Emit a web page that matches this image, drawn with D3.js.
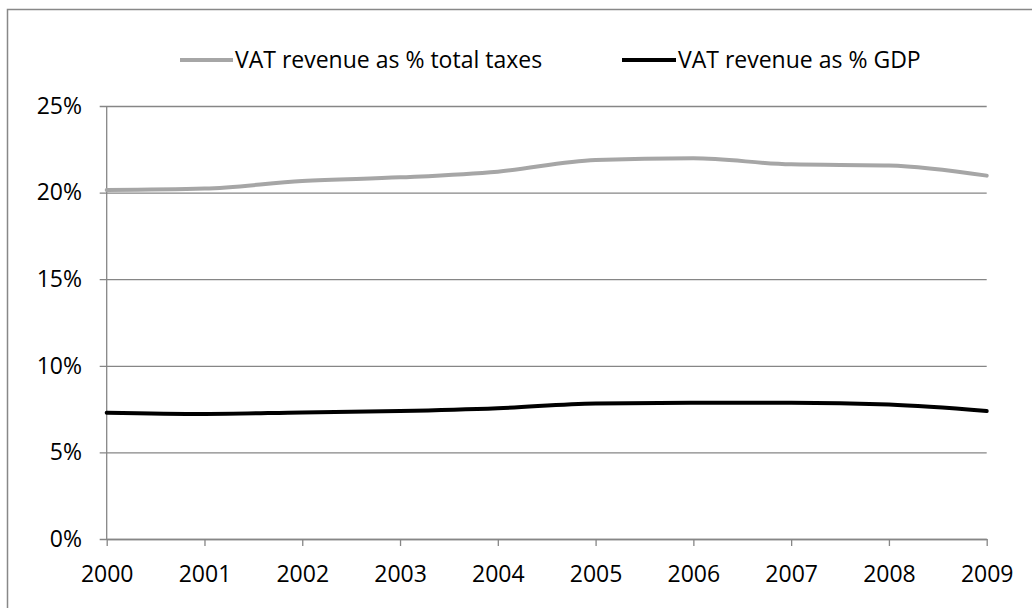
<!DOCTYPE html>
<html>
<head>
<meta charset="utf-8">
<script src="https://cdn.jsdelivr.net/npm/d3@7"></script>
<style>
  html, body { margin: 0; padding: 0; background: #fff; }
  svg { display: block; }
  text { font-family: "Open Sans", "Noto Sans", sans-serif; fill: #000; }
</style>
</head>
<body>
<svg id="chart" width="1032" height="608"></svg>
<script>
// VAT revenue, 2000–2009
const years = ["2000","2001","2002","2003","2004","2005","2006","2007","2008","2009"];
const vatShareOfTaxes = [20.15, 20.23, 20.67, 20.88, 21.21, 21.88, 21.98, 21.63, 21.57, 20.98];
const vatShareOfGDP   = [7.29, 7.22, 7.31, 7.39, 7.55, 7.83, 7.87, 7.87, 7.76, 7.39];
const yTicks = [0, 5, 10, 15, 20, 25];
const seriesNames = ["VAT revenue as % total taxes", "VAT revenue as % GDP"];
const seriesColors = ["#a6a6a6", "#000000"];

const svg = d3.select("#chart");
const fontSize = 23;
const axisColor = "#868686";

// outer frame of the chart area
svg.append("rect")
  .attr("x", 7.5).attr("y", 9.5)
  .attr("width", 1040).attr("height", 620)
  .attr("fill", "none").attr("stroke", "#888").attr("stroke-width", 1.5);

const x = d3.scalePoint().domain(years).range([106.7, 986.7]);
const y = d3.scaleLinear().domain([0, 25]).range([539, 106]);

// horizontal gridlines with outward tick stubs
const yAxis = d3.axisLeft(y).tickValues(yTicks)
  .tickSize(x.range()[1] - x.range()[0] + 7).tickPadding(18)
  .tickFormat(d => d + "%");
const gy = svg.append("g")
  .attr("transform", `translate(${x.range()[1]},0)`)
  .call(yAxis);
gy.select(".domain").remove();
gy.selectAll(".tick line").attr("stroke", axisColor).attr("stroke-width", 1.3);
gy.selectAll(".tick text")
  .attr("x", -(x.range()[1] - 82))
  .attr("text-anchor", "end")
  .style("font-size", fontSize + "px")
  .style("font-family", "'Open Sans', sans-serif")
  .attr("fill", "#000");

// vertical value axis line
svg.append("line")
  .attr("x1", x.range()[0]).attr("x2", x.range()[0])
  .attr("y1", y(25)).attr("y2", y(0))
  .attr("stroke", axisColor).attr("stroke-width", 1.3);

// category axis
const xAxis = d3.axisBottom(x).tickSize(7).tickPadding(20).tickSizeOuter(0);
const gx = svg.append("g")
  .attr("transform", `translate(0,${y(0)})`)
  .call(xAxis);
gx.select(".domain").attr("stroke", axisColor).attr("stroke-width", 1.3);
gx.selectAll(".tick line").attr("stroke", axisColor).attr("stroke-width", 1.3);
gx.selectAll(".tick text")
  .style("font-size", fontSize + "px")
  .style("font-family", "'Open Sans', sans-serif")
  .attr("fill", "#000");

// series lines
const line = d3.line()
  .x((d, i) => x(years[i]))
  .y(d => y(d))
  .curve(d3.curveMonotoneX);

[vatShareOfTaxes, vatShareOfGDP].forEach((vals, k) => {
  svg.append("path")
    .datum(vals)
    .attr("d", line)
    .attr("fill", "none")
    .attr("stroke", seriesColors[k])
    .attr("stroke-width", 4)
    .attr("stroke-linecap", "round")
    .attr("stroke-linejoin", "round");
});

// legend
const legendItems = [
  { x1: 180, x2: 233, tx: 235 },
  { x1: 622, x2: 676, tx: 678 }
];
legendItems.forEach((it, k) => {
  svg.append("line")
    .attr("x1", it.x1).attr("x2", it.x2)
    .attr("y1", 60).attr("y2", 60)
    .attr("stroke", seriesColors[k]).attr("stroke-width", 4);
  svg.append("text")
    .attr("x", it.tx).attr("y", 68)
    .style("font-size", fontSize + "px")
    .text(seriesNames[k]);
});
</script>
</body>
</html>
